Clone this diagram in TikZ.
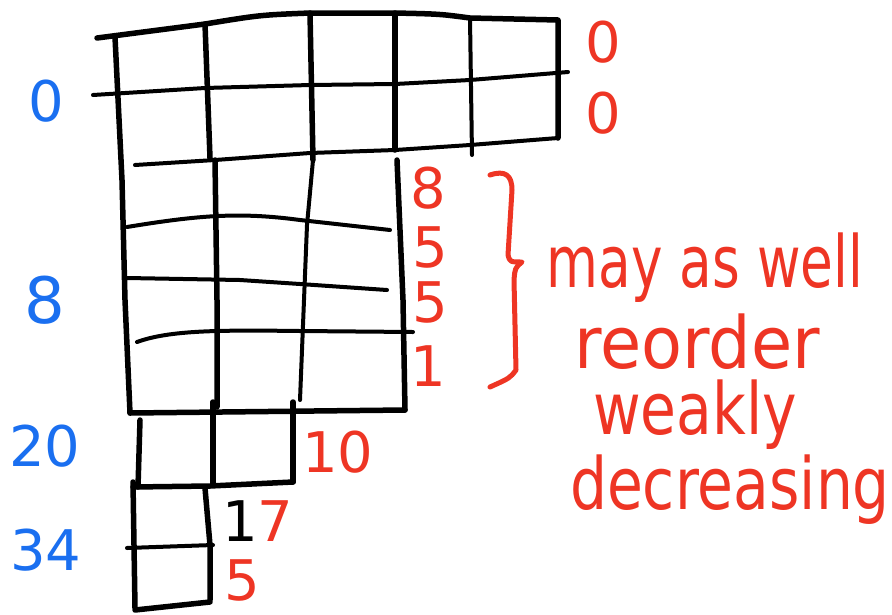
\documentclass[tikz,border=0pt]{standalone}
\usepackage{fontspec}
\setmainfont{DejaVu Sans}
\definecolor{hred}{HTML}{EE3524}
\definecolor{hblue}{HTML}{1A6FF0}
\begin{document}
\begin{tikzpicture}[x=1pt,y=-1pt,line cap=round,line join=round,
  ink/.style={draw=black,line width=5.5pt},
  thin/.style={draw=black,line width=4pt},
  rlab/.style={text=hred,font=\fontsize{56}{56}\selectfont,inner sep=0pt},
  blab/.style={text=hblue,font=\fontsize{56}{56}\selectfont,inner sep=0pt},
  note/.style={text=hred,font=\fontsize{72}{72}\selectfont,inner sep=0pt,transform shape}]
\useasboundingbox (0,0) rectangle (892,614);
% top two rows
\draw[ink] (97,38) -- (205,24) .. controls (260,15) .. (310,13) -- (395,13) .. controls (440,14) .. (470,18) -- (558,20) -- (558,138);
\draw[thin] (93,95) -- (205,88) -- (310,85) -- (395,84) -- (470,80) -- (568,72);
\draw[thin] (135,165) -- (215,160) -- (310,153) -- (395,150) -- (470,145) -- (558,138);
\draw[ink] (115,37) -- (122,180) -- (125,300) -- (130,413);
\draw[ink] (205,24) -- (210,158);
\draw[ink] (310,13) -- (313,160);
\draw[ink] (395,13) -- (395,150);
\draw[thin] (470,18) -- (472,155);
% middle block
\draw[ink] (215,160) -- (217,300) -- (217,407);
\draw[thin] (313,160) -- (307,225) -- (300,400);
\draw[ink] (397,160) -- (403,300) -- (405,410);
\draw[thin] (127,227) .. controls (200,215) and (240,212) .. (300,220) -- (390,230);
\draw[thin] (127,278) -- (240,280) -- (300,284) -- (387,290);
\draw[thin] (137,342) .. controls (170,330) and (220,330) .. (300,331) -- (413,332);
\draw[ink] (130,413) -- (405,410);
% row 7
\draw[ink] (140,420) -- (138,487);
\draw[ink] (213,402) -- (213,485);
\draw[ink] (293,402) -- (293,482);
\draw[ink] (133,487) -- (210,486) -- (293,482);
% rows 8-9
\draw[ink] (133,482) -- (135,608);
\draw[ink] (205,488) -- (210,545) -- (210,600);
\draw[thin] (127,548) -- (213,545);
\draw[ink] (135,610) -- (210,602);
% labels left
\node[blab] (b0) at (46,101) {0};
\node[blab,font=\fontsize{64}{64}\selectfont] (b8) at (45,300) {8};
\node[blab] (b20) at (45,446) {20};
\node[blab] (b34) at (46,550) {34};
% labels right
\node[rlab] (r0a) at (603,42) {0};
\node[rlab] (r0b) at (603,113) {0};
\node[rlab] (r8) at (428,188) {8};
\node[rlab] (r5a) at (430,247) {5};
\node[rlab] (r5b) at (430,302) {5};
\node[rlab] (r1) at (428,366) {1};
\node[rlab] (r10) at (338,452) {10};
\node[rlab,anchor=west] (r17) at (222,521) {\textcolor{black}{1}7};
\node[rlab] (r5c) at (242,580) {5};
% brace
\draw[hred,line width=5pt] (490,175) .. controls (505,170) and (512,175) .. (512,190) -- (508,255) .. controls (510,262) .. (522,262) .. controls (515,268) .. (514,280) -- (516,370) .. controls (510,378) .. (490,387);
% note
\node[note,xscale=0.74] (n1) at (705,268) {may as well};
\node[note,xscale=0.93] (n2) at (697,342) {reorder};
\node[note,xscale=0.81] (n3) at (695,415) {weakly};
\node[note,xscale=0.81] (n4) at (730,490) {decreasing};
\end{tikzpicture}
\end{document}
